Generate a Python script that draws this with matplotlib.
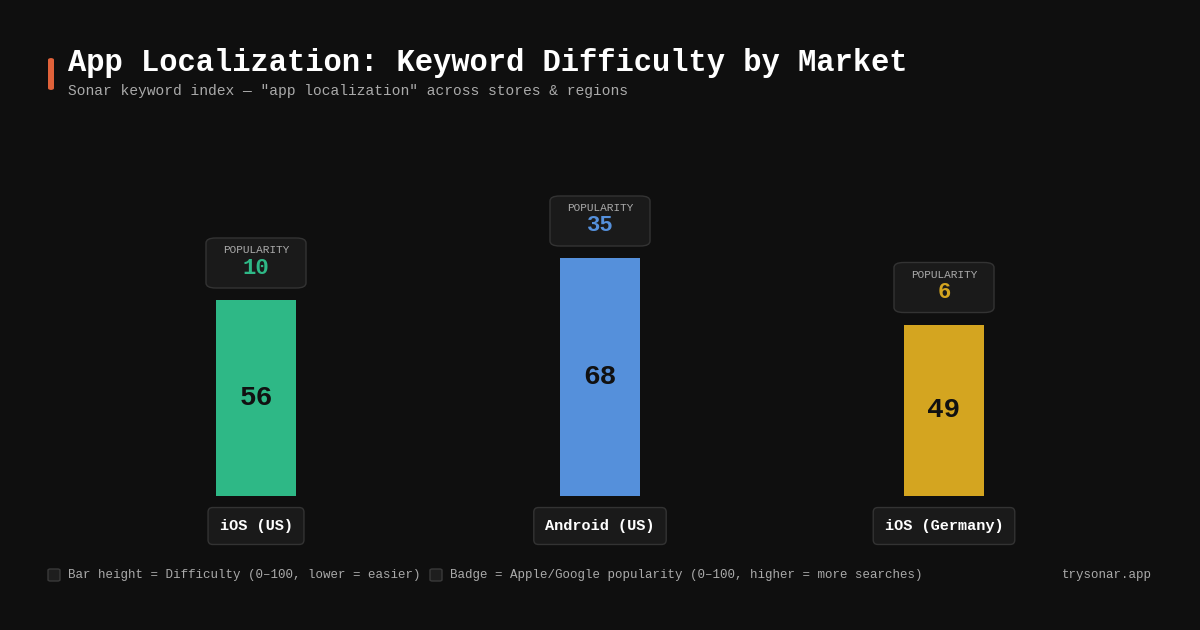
import matplotlib
matplotlib.use("Agg")
import matplotlib.pyplot as plt
from matplotlib.patches import FancyBboxPatch

markets = ["iOS (US)", "Android (US)", "iOS (Germany)"]
difficulty = [56, 68, 49]
popularity = [10, 35, 6]
colors = ["#2eb886", "#5590db", "#d4a520"]

BG = "#0f0f0f"
FONT = ["Liberation Mono", "DejaVu Sans Mono"]
plt.rcParams['font.family'] = FONT

fig = plt.figure(figsize=(12, 6.3), dpi=100, facecolor=BG)
W, H = 1200, 630
ax = fig.add_axes([84 / W, 1 - 496 / H, 1032 / W, 350 / H])
ax.set_facecolor(BG)
ax.set_xlim(-0.5, 2.5)
ax.set_ylim(0, 100)
ax.axis("off")

x = list(range(len(markets)))
ax.bar(x, difficulty, width=80 / 344, color=colors)

fig.canvas.draw()
for i, (d, p, c, m) in enumerate(zip(difficulty, popularity, colors, markets)):
    ax.text(i, d / 2, str(d), ha="center", va="center", fontsize=20,
            fontweight="bold", color="#111111")
    px, py = ax.transData.transform((i, d))  # display pixels (origin bottom)
    bx, by, bw, bh = px - 50, py + 12, 100, 50
    fig.patches.append(FancyBboxPatch((bx / W, by / H), bw / W, bh / H,
                       boxstyle="round,pad=0,rounding_size=0.008",
                       transform=fig.transFigure, facecolor="#1a1a1a",
                       edgecolor="#333333", linewidth=1))
    fig.text(px / W, (by + 38) / H, "POPULARITY", ha="center", va="center",
             fontsize=8, color="#aaaaaa")
    fig.text(px / W, (by + 20) / H, str(p), ha="center", va="center",
             fontsize=16, color=c, fontweight="bold")
    fig.text(px / W, 1 - 526 / H, m, ha="center", va="center", fontsize=11,
             fontweight="bold", color="white",
             bbox=dict(boxstyle="round,pad=0.75,rounding_size=0.3",
                       facecolor="#1a1a1a", edgecolor="#333333", linewidth=1))

# Title
fig.patches.append(FancyBboxPatch((48 / W, 1 - 90 / H), 6 / W, 32 / H,
                   boxstyle="round,pad=0,rounding_size=0.003",
                   transform=fig.transFigure, facecolor="#e0623a", edgecolor="none"))
fig.text(68 / W, 1 - 63 / H, "App Localization: Keyword Difficulty by Market",
         fontsize=22, fontweight="bold", color="white", va="center")
fig.text(68 / W, 1 - 91 / H,
         'Sonar keyword index — "app localization" across stores & regions',
         fontsize=10.5, color="#aaaaaa", va="center")

# Footer legend
for sx, label in [(48, "Bar height = Difficulty (0–100, lower = easier)"),
                  (430, "Badge = Apple/Google popularity (0–100, higher = more searches)")]:
    fig.patches.append(FancyBboxPatch((sx / W, 1 - 581 / H), 12 / W, 12 / H,
                       boxstyle="round,pad=0,rounding_size=0.002",
                       transform=fig.transFigure, facecolor="#1e1e1e",
                       edgecolor="#3a3a3a", linewidth=1))
    fig.text((sx + 20) / W, 1 - 575 / H, label, fontsize=9, color="#aaaaaa", va="center")
fig.text(1152 / W, 1 - 575 / H, "trysonar.app", fontsize=9, color="#aaaaaa",
         va="center", ha="right")

fig.savefig("out.png", dpi=100, facecolor=BG)
